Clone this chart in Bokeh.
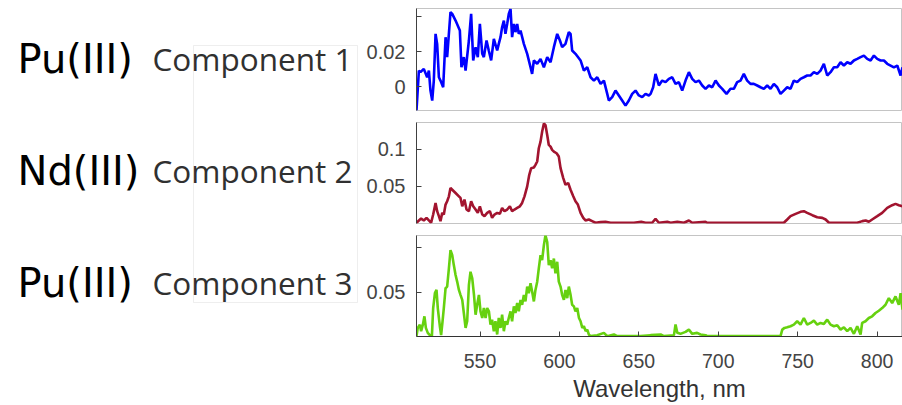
from bokeh.plotting import figure
from bokeh.layouts import row, column
from bokeh.models import Range1d, Label, BoxAnnotation, FixedTicker
from bokeh.embed import file_html
from bokeh.resources import INLINE

# ---------------- data ----------------
wl1 = [510.0, 511.5, 512.5, 514.6, 516.7, 517.8, 518.8, 519.9, 520.9, 522.0, 523.0, 524.1, 525.1, 526.8,
       528.3, 529.3, 531.4, 532.5, 534.6, 537.3, 538.3, 539.8, 540.9, 543.0, 544.4, 545.7, 547.2, 548.6,
       549.9, 551.4, 552.4, 554.1, 555.5, 557.0, 558.7, 560.8, 561.8, 562.9, 563.9, 565.0, 566.0, 567.1,
       568.1, 569.2, 570.2, 571.3, 572.3, 573.4, 574.4, 575.5, 577.6, 579.7, 581.8, 582.8, 583.9, 586.0,
       588.1, 590.2, 592.3, 594.4, 596.5, 598.6, 600.3, 601.7, 603.8, 605.9, 607.0, 608.0, 610.1, 613.3,
       615.4, 617.5, 619.6, 621.7, 623.8, 625.9, 628.0, 630.1, 631.1, 633.2, 635.3, 637.4, 639.5, 641.6,
       643.7, 645.8, 647.9, 650.0, 652.1, 654.2, 656.3, 657.4, 659.0, 660.5, 662.6, 664.7, 666.8, 668.9,
       671.0, 673.1, 675.2, 677.3, 679.4, 681.5, 683.6, 685.7, 687.8, 689.9, 692.0, 694.1, 696.2, 698.3,
       700.4, 702.5, 705.2, 707.7, 709.8, 711.9, 714.0, 716.1, 718.2, 720.3, 722.4, 724.5, 726.6, 728.7,
       730.8, 732.9, 735.0, 737.1, 739.2, 741.3, 743.4, 745.5, 747.6, 749.7, 751.8, 753.9, 756.0, 758.1,
       760.2, 762.3, 764.4, 766.5, 768.6, 770.7, 772.8, 774.9, 777.0, 779.1, 781.2, 783.3, 785.4, 787.5,
       789.6, 791.7, 793.8, 795.9, 798.0, 800.1, 802.2, 804.3, 806.4, 808.5, 810.6, 812.7, 814.8, 816.0]
comp1 = [-0.0137, 0.0091, 0.0082, 0.0101, 0.0053, 0.0091, -0.0023, -0.0080, 0.0034, 0.0301, 0.0244, 0.0053, 0.0034, -0.0004,
         0.0282, 0.0168, 0.0425, 0.0415, 0.0377, 0.0320, 0.0110, 0.0168, 0.0091, 0.0263, 0.0415, 0.0149, 0.0225, 0.0168,
         0.0358, 0.0187, 0.0168, 0.0263, 0.0206, 0.0149, 0.0272, 0.0206, 0.0244, 0.0282, 0.0339, 0.0377, 0.0301, 0.0358,
         0.0415, 0.0444, 0.0282, 0.0358, 0.0311, 0.0358, 0.0301, 0.0320, 0.0244, 0.0187, 0.0110, 0.0072, 0.0149, 0.0130,
         0.0158, 0.0110, 0.0168, 0.0139, 0.0225, 0.0301, 0.0263, 0.0225, 0.0244, 0.0311, 0.0301, 0.0206, 0.0187, 0.0149,
         0.0091, 0.0110, 0.0053, 0.0034, 0.0053, 0.0015, 0.0034, -0.0042, -0.0080, -0.0061, -0.0023, -0.0051, -0.0080, -0.0109,
         -0.0080, -0.0042, -0.0023, -0.0051, -0.0061, -0.0042, -0.0051, -0.0042, -0.0004, 0.0072, 0.0006, 0.0034, 0.0025, 0.0044,
         0.0053, 0.0015, 0.0025, -0.0023, 0.0034, 0.0082, 0.0044, 0.0025, 0.0034, 0.0006, -0.0013, 0.0006, -0.0004, 0.0034,
         0.0006, -0.0013, -0.0042, -0.0013, -0.0013, 0.0025, 0.0034, 0.0072, 0.0034, 0.0015, 0.0015, 0.0006, -0.0004, -0.0013,
         0.0006, -0.0013, 0.0015, -0.0004, -0.0042, -0.0023, -0.0004, -0.0013, 0.0034, 0.0025, 0.0044, 0.0053, 0.0063, 0.0063,
         0.0082, 0.0072, 0.0091, 0.0130, 0.0063, 0.0082, 0.0110, 0.0110, 0.0139, 0.0120, 0.0139, 0.0130, 0.0149, 0.0158,
         0.0168, 0.0177, 0.0158, 0.0149, 0.0177, 0.0158, 0.0149, 0.0149, 0.0130, 0.0120, 0.0110, 0.0120, 0.0063, 0.0110]

wl2 = [510.0, 511.5, 512.9, 514.6, 516.3, 517.8, 519.2, 520.5, 522.0, 523.0, 524.1, 525.1, 526.2, 527.2, 528.3,
       529.3, 530.4, 531.4, 532.5, 534.6, 536.7, 537.7, 538.8, 540.2, 541.5, 543.0, 544.4, 545.7, 547.2, 548.6,
       549.9, 551.4, 552.8, 554.5, 556.2, 557.6, 559.1, 560.8, 562.5, 563.9, 565.4, 567.1, 568.8, 570.2, 571.7,
       573.4, 575.1, 576.5, 578.0, 579.7, 581.0, 582.2, 583.9, 584.9, 586.0, 587.0, 588.1, 589.1, 590.2, 591.2,
       592.3, 593.3, 594.4, 595.4, 596.5, 598.2, 599.6, 600.7, 602.4, 603.8, 605.5, 607.0, 608.7, 610.1, 611.6,
       613.3, 615.0, 616.4, 618.5, 620.6, 622.7, 625.9, 629.0, 632.2, 646.9, 651.5, 654.2, 658.4, 660.5, 662.6,
       667.9, 670.0, 674.2, 678.4, 681.5, 683.6, 692.0, 693.0, 741.3, 743.4, 745.5, 748.7, 751.8, 753.9, 756.0,
       759.2, 762.3, 765.5, 767.6, 769.7, 787.5, 790.7, 792.8, 794.8, 796.9, 800.1, 803.2, 806.4, 809.5, 811.6,
       813.7, 816.0]
comp2 = [0.0010, 0.0041, 0.0067, 0.0041, 0.0076, 0.0041, 0.0010, 0.0121, 0.0277, 0.0166, 0.0099, 0.0032, 0.0143, 0.0121, 0.0255,
         0.0299, 0.0366, 0.0478, 0.0455, 0.0411, 0.0366, 0.0344, 0.0232, 0.0322, 0.0188, 0.0166, 0.0299, 0.0232, 0.0188, 0.0143,
         0.0232, 0.0121, 0.0099, 0.0143, 0.0166, 0.0076, 0.0121, 0.0143, 0.0130, 0.0210, 0.0166, 0.0188, 0.0232, 0.0166, 0.0188,
         0.0210, 0.0232, 0.0277, 0.0366, 0.0500, 0.0656, 0.0745, 0.0754, 0.0790, 0.0835, 0.1013, 0.1102, 0.1236, 0.1347, 0.1325,
         0.1191, 0.1058, 0.1035, 0.0991, 0.0968, 0.0946, 0.0901, 0.0745, 0.0612, 0.0522, 0.0545, 0.0455, 0.0366, 0.0299, 0.0255,
         0.0143, 0.0076, 0.0041, 0.0054, 0.0032, 0.0010, 0.0018, 0.0023, 0.0010, 0.0010, 0.0023, 0.0010, 0.0010, 0.0063, 0.0010,
         0.0023, 0.0010, 0.0023, 0.0010, 0.0041, 0.0010, 0.0023, 0.0010, 0.0010, 0.0054, 0.0099, 0.0130, 0.0157, 0.0166, 0.0143,
         0.0112, 0.0085, 0.0076, 0.0054, 0.0010, 0.0010, 0.0032, 0.0041, 0.0023, 0.0054, 0.0099, 0.0143, 0.0210, 0.0246, 0.0264,
         0.0246, 0.0232]

wl3 = [510.0, 510.8, 512.1, 512.9, 514.0, 515.0, 515.9, 517.1, 518.4, 519.7, 520.5, 521.6, 522.6, 523.4, 524.7,
       525.5, 526.4, 527.2, 528.3, 529.3, 530.4, 531.4, 532.5, 533.5, 534.6, 535.6, 536.7, 537.7, 538.8, 539.8,
       540.9, 541.9, 543.0, 544.0, 545.1, 546.2, 547.2, 548.2, 549.3, 550.3, 551.4, 552.4, 553.5, 554.5, 555.6,
       556.6, 557.6, 558.7, 559.7, 560.8, 561.8, 562.9, 563.9, 565.0, 566.0, 567.1, 568.1, 569.2, 570.2, 571.3,
       572.3, 573.4, 574.4, 575.5, 576.5, 577.6, 578.6, 579.7, 580.7, 581.8, 582.8, 583.9, 584.9, 586.0, 587.0,
       588.1, 589.1, 590.2, 591.2, 592.3, 593.3, 594.4, 595.4, 596.5, 597.5, 598.6, 599.6, 600.7, 601.7, 602.8,
       603.8, 604.9, 605.9, 607.0, 608.0, 609.1, 610.1, 611.2, 612.3, 613.3, 614.4, 615.4, 616.5, 617.5, 618.5,
       619.6, 623.8, 628.0, 630.1, 634.3, 636.4, 651.1, 657.4, 663.7, 665.8, 672.1, 673.1, 674.2, 676.2, 679.4,
       681.5, 683.6, 686.7, 688.8, 692.0, 693.0, 739.2, 740.3, 741.7, 743.4, 745.5, 747.6, 749.7, 751.8, 753.9,
       756.0, 758.1, 760.2, 762.3, 764.4, 766.5, 768.6, 770.7, 772.8, 774.9, 777.0, 779.1, 781.2, 783.3, 785.4,
       787.5, 789.6, 790.6, 792.7, 794.8, 796.9, 799.0, 801.1, 803.2, 805.3, 807.4, 809.5, 811.6, 813.7, 814.8,
       816.0]
comp3 = [0.0004, 0.0097, 0.0134, 0.0060, 0.0134, 0.0228, 0.0097, 0.0041, 0.0015, 0.0004, 0.0321, 0.0489, 0.0526, 0.0321, 0.0116,
         0.0015, 0.0172, 0.0321, 0.0545, 0.0563, 0.0769, 0.0974, 0.0918, 0.0806, 0.0694, 0.0620, 0.0526, 0.0470, 0.0414, 0.0265,
         0.0097, 0.0172, 0.0582, 0.0731, 0.0657, 0.0470, 0.0246, 0.0358, 0.0470, 0.0284, 0.0209, 0.0321, 0.0209, 0.0321, 0.0284,
         0.0134, 0.0190, 0.0060, 0.0172, 0.0023, 0.0209, 0.0097, 0.0246, 0.0060, 0.0172, 0.0134, 0.0209, 0.0284, 0.0172, 0.0340,
         0.0265, 0.0377, 0.0284, 0.0414, 0.0358, 0.0470, 0.0396, 0.0563, 0.0489, 0.0601, 0.0507, 0.0396, 0.0526, 0.0619, 0.0769,
         0.0918, 0.0862, 0.1030, 0.1142, 0.1067, 0.0806, 0.0862, 0.0769, 0.0880, 0.0713, 0.0843, 0.0619, 0.0563, 0.0470, 0.0414,
         0.0526, 0.0433, 0.0563, 0.0470, 0.0358, 0.0340, 0.0284, 0.0321, 0.0209, 0.0172, 0.0097, 0.0116, 0.0060, 0.0078, 0.0023,
         0.0004, 0.0015, 0.0041, 0.0004, 0.0023, 0.0004, 0.0004, 0.0015, 0.0023, 0.0004, 0.0015, 0.0135, 0.0041, 0.0030, 0.0052,
         0.0078, 0.0030, 0.0041, 0.0023, 0.0015, 0.0004, 0.0004, 0.0078, 0.0097, 0.0104, 0.0116, 0.0134, 0.0172, 0.0134, 0.0209,
         0.0134, 0.0153, 0.0179, 0.0134, 0.0153, 0.0142, 0.0190, 0.0134, 0.0116, 0.0127, 0.0078, 0.0104, 0.0060, 0.0097, 0.0030,
         0.0116, 0.0023, 0.0153, 0.0172, 0.0209, 0.0228, 0.0265, 0.0291, 0.0321, 0.0358, 0.0433, 0.0377, 0.0452, 0.0358, 0.0489,
         0.0303]

species = ["Pu(III)", "Nd(III)", "Pu(III)"]
components = ["Component 1", "Component 2", "Component 3"]
x_ticks = [550, 600, 650, 700, 750, 800]
x_label = "Wavelength, nm"

# ---------------- styling ----------------
X_START, X_END = 510, 816
AXIS_COL = "#404040"
FRAME_COL = "#c4c4c4"
LABEL_FONT = "Liberation Sans"

# left panel with labels
left = figure(width=360, height=405, x_range=Range1d(0, 360), y_range=Range1d(405, 0),
              output_backend="svg", toolbar_location=None,
              x_axis_location=None, y_axis_location=None,
              min_border=0, outline_line_color=None)
left.grid.visible = False
left.add_layout(BoxAnnotation(left=193, right=357, top=45, bottom=302,
                              fill_alpha=0, line_color="#c8c8c8", line_width=1))
rows_y = [58, 170, 282]
for sp, comp, yb in zip(species, components, rows_y):
    left.add_layout(Label(x=17, y=yb, text=sp, text_font="DejaVu Sans", text_font_size="40px",
                          text_color="#000000", text_baseline="alphabetic"))
    left.add_layout(Label(x=152, y=yb, text=comp, text_font="Open Sans", text_font_size="31.5px",
                          text_color="#303030", text_baseline="alphabetic"))


def panel(height, top, bottom, xs, ys, color, yr, ticks, overrides, show_x):
    p = figure(width=542, height=height, x_range=Range1d(X_START, X_END), y_range=Range1d(*yr),
               output_backend="svg", toolbar_location=None,
               min_border_left=56, min_border_right=0, min_border_top=top, min_border_bottom=bottom,
               x_axis_location="below" if show_x else None)
    p.outline_line_color = FRAME_COL
    p.outline_line_width = 1
    p.grid.visible = False
    p.line(xs, ys, line_color=color, line_width=2.6)
    ya = p.yaxis[0]
    ya.ticker = FixedTicker(ticks=ticks)
    ya.major_label_overrides = overrides
    ya.minor_tick_line_color = None
    ya.major_tick_in = 5
    ya.major_tick_out = 0
    ya.major_tick_line_color = AXIS_COL
    ya.axis_line_color = AXIS_COL
    ya.major_label_text_font = LABEL_FONT
    ya.major_label_text_font_size = "20px"
    ya.major_label_text_color = "#444444"
    ya.major_label_standoff = 11
    if show_x:
        xa = p.xaxis[0]
        xa.ticker = FixedTicker(ticks=x_ticks)
        xa.minor_tick_line_color = None
        xa.major_tick_in = 5
        xa.major_tick_out = 0
        xa.major_tick_line_color = AXIS_COL
        xa.axis_line_color = "#333333"
        xa.major_label_text_font = LABEL_FONT
        xa.major_label_text_font_size = "19.5px"
        xa.major_label_text_color = "#444444"
        xa.major_label_standoff = 17
        xa.axis_label = x_label
        xa.axis_label_text_font = LABEL_FONT
        xa.axis_label_text_font_size = "24px"
        xa.axis_label_text_font_style = "normal"
        xa.axis_label_text_color = "#333333"
        xa.axis_label_standoff = 4
    return p


p1 = panel(116, 8, 6, wl1, comp1, "#0000ff", (-0.0137, 0.0446), [0, 0.02, 0.04],
           {0: "0", 0.02: "0.02", 0.04: ""}, False)
p2 = panel(113, 6, 6, wl2, comp2, "#a2142f", (0.0, 0.136), [0.05, 0.1],
           {0.05: "0.05", 0.1: "0.1"}, False)
p3 = panel(176, 6, 69, wl3, comp3, "#66d10f", (0.0, 0.114), [0.05, 0.1],
           {0.05: "0.05", 0.1: ""}, True)

layout = row(left, column(p1, p2, p3, spacing=0), spacing=0)
open("out.html", "w").write(file_html(layout, INLINE))
